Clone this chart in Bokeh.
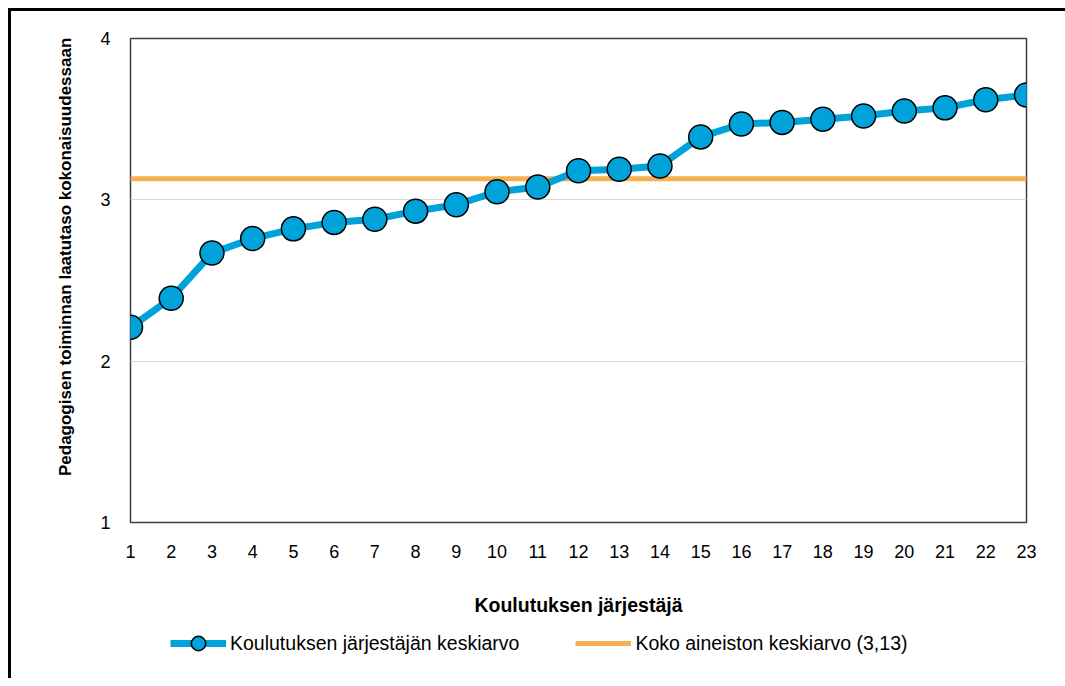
from bokeh.plotting import figure
from bokeh.models import Legend, LegendItem, FixedTicker, Range1d
from bokeh.layouts import column
from bokeh.embed import file_html
from bokeh.resources import INLINE

providers = list(range(1, 24))
provider_means = [2.21, 2.39, 2.67, 2.76, 2.82, 2.86, 2.88, 2.93, 2.97, 3.05, 3.08,
                  3.18, 3.19, 3.21, 3.39, 3.47, 3.48, 3.50, 3.52, 3.55, 3.57, 3.62, 3.65]
overall_mean = 3.13
y_ticks = [1, 2, 3, 4]
series_labels = ["Koulutuksen järjestäjän keskiarvo", "Koko aineiston keskiarvo (3,13)"]

FONT = "Liberation Sans"
BLUE = "#00A3D9"
ORANGE = "#F5B04F"

p = figure(frame_width=896, frame_height=484, output_backend="svg", toolbar_location=None,
           x_range=Range1d(1, 23), y_range=Range1d(1, 4),
           min_border_left=119, min_border_right=39, min_border_top=27, min_border_bottom=100)

p.outline_line_color = "#404040"
p.outline_line_width = 1.5
p.xgrid.grid_line_color = None
p.ygrid.grid_line_color = "#D9D9D9"
p.ygrid.grid_line_width = 1

p.xaxis.ticker = FixedTicker(ticks=providers)
p.yaxis.ticker = FixedTicker(ticks=y_ticks)
for ax in (p.xaxis, p.yaxis):
    ax.axis_line_color = None
    ax.major_tick_line_color = None
    ax.minor_tick_line_color = None
    ax.major_tick_out = 0
    ax.major_tick_in = 0
    ax.minor_tick_out = 0
    ax.minor_tick_in = 0
    ax.major_label_text_font = FONT
    ax.major_label_text_font_size = "18px"
    ax.major_label_text_color = "#000000"
    ax.axis_label_text_font = FONT
    ax.axis_label_text_font_style = "bold"
    ax.axis_label_text_color = "#000000"
p.xaxis.axis_label = "Koulutuksen järjestäjä"
p.xaxis.axis_label_text_font_size = "19.5px"
p.yaxis.axis_label = "\u00a0" * 10 + "Pedagogisen toiminnan laatutaso kokonaisuudessaan"
p.yaxis.axis_label_text_font_size = "17px"
p.xaxis.major_label_standoff = 22
p.yaxis.major_label_standoff = 20
p.xaxis.axis_label_standoff = 33
p.yaxis.axis_label_standoff = 22

p.line([providers[0], providers[-1]], [overall_mean, overall_mean],
       line_color=ORANGE, line_width=5)
p.line(providers, provider_means, line_color=BLUE, line_width=7)
p.scatter(providers, provider_means, size=24, fill_color=BLUE,
          line_color="#000000", line_width=1.5)

# legend strip below the chart (its own small canvas so nothing gets clipped);
# its renderers carry the same series but lie outside this strip's visible range
lf = figure(frame_width=1054, frame_height=56, output_backend="svg", toolbar_location=None,
            x_range=Range1d(100, 101), y_range=Range1d(100, 101),
            min_border_left=0, min_border_right=0, min_border_top=0, min_border_bottom=0)
lf.axis.visible = False
lf.grid.visible = False
lf.outline_line_color = None
l_ln = lf.line(providers, provider_means, line_color=BLUE, line_width=7)
l_sc = lf.scatter(providers, provider_means, size=24, fill_color=BLUE,
                  line_color="#000000", line_width=1.5)
l_avg = lf.line([providers[0], providers[-1]], [overall_mean, overall_mean],
                line_color=ORANGE, line_width=5)

legend = Legend(items=[
    LegendItem(label=series_labels[0], renderers=[l_ln, l_sc]),
    LegendItem(label=series_labels[1], renderers=[l_avg]),
], orientation="horizontal", location=(159, 17))
legend.label_text_font = FONT
legend.label_text_font_size = "19.5px"
legend.label_text_color = "#000000"
legend.glyph_width = 56
legend.glyph_height = 36
legend.label_height = 36
legend.spacing = 56
legend.label_standoff = 4
legend.border_line_color = None
legend.background_fill_alpha = 0
legend.padding = 2
legend.margin = 0
lf.add_layout(legend)

layout = column(p, lf, spacing=0)
layout.styles = {"margin-left": "8px", "margin-top": "8px",
                 "border-top": "3px solid black", "border-left": "3px solid black"}

open("out.html", "w").write(file_html(layout, INLINE))
